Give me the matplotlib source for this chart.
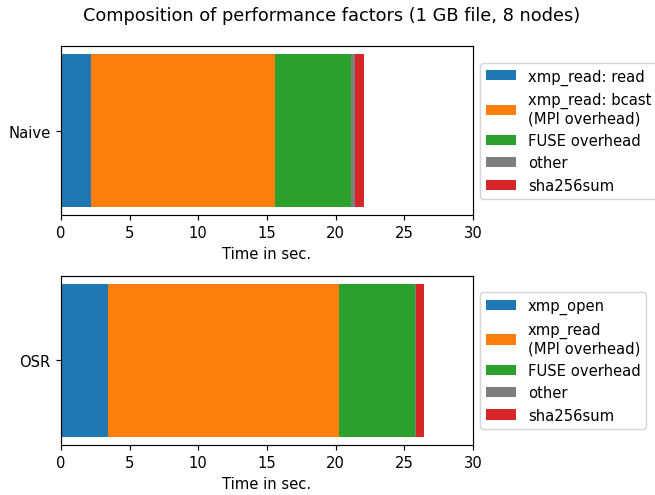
import matplotlib
matplotlib.use("Agg")
import matplotlib.pyplot as plt

colors = ["#1f77b4", "#ff7f0e", "#2ca02c", "#7f7f7f", "#d62728"]

naive_labels = ["xmp_read: read", "xmp_read: bcast\n(MPI overhead)", "FUSE overhead", "other", "sha256sum"]
naive_values = [2.18, 13.41, 5.50, 0.31, 0.68]

osr_labels = ["xmp_open", "xmp_read\n(MPI overhead)", "FUSE overhead", "other", "sha256sum"]
osr_values = [3.44, 16.80, 5.53, 0.07, 0.60]

DPI = 106.5
fig = plt.figure(figsize=(655 / DPI, 496 / DPI), dpi=DPI)
ax1 = fig.add_axes([0.0931, 0.5645, 0.629, 0.340])
ax2 = fig.add_axes([0.0931, 0.1014, 0.629, 0.3396])

def draw(ax, name, labels, values):
    left = 0.0
    for lab, val, col in zip(labels, values, colors):
        ax.barh([name], [val], left=left, color=col, label=lab)
        left += val
    ax.set_xlim(0, 30)
    ax.set_xlabel("Time in sec.")
    ax.legend(loc="center left", bbox_to_anchor=(1.0, 0.5))

draw(ax1, "Naive", naive_labels, naive_values)
draw(ax2, "OSR", osr_labels, osr_values)

fig.suptitle("Composition of performance factors (1 GB file, 8 nodes)", x=0.507, y=0.985)
fig.savefig("out.png", dpi=DPI)
